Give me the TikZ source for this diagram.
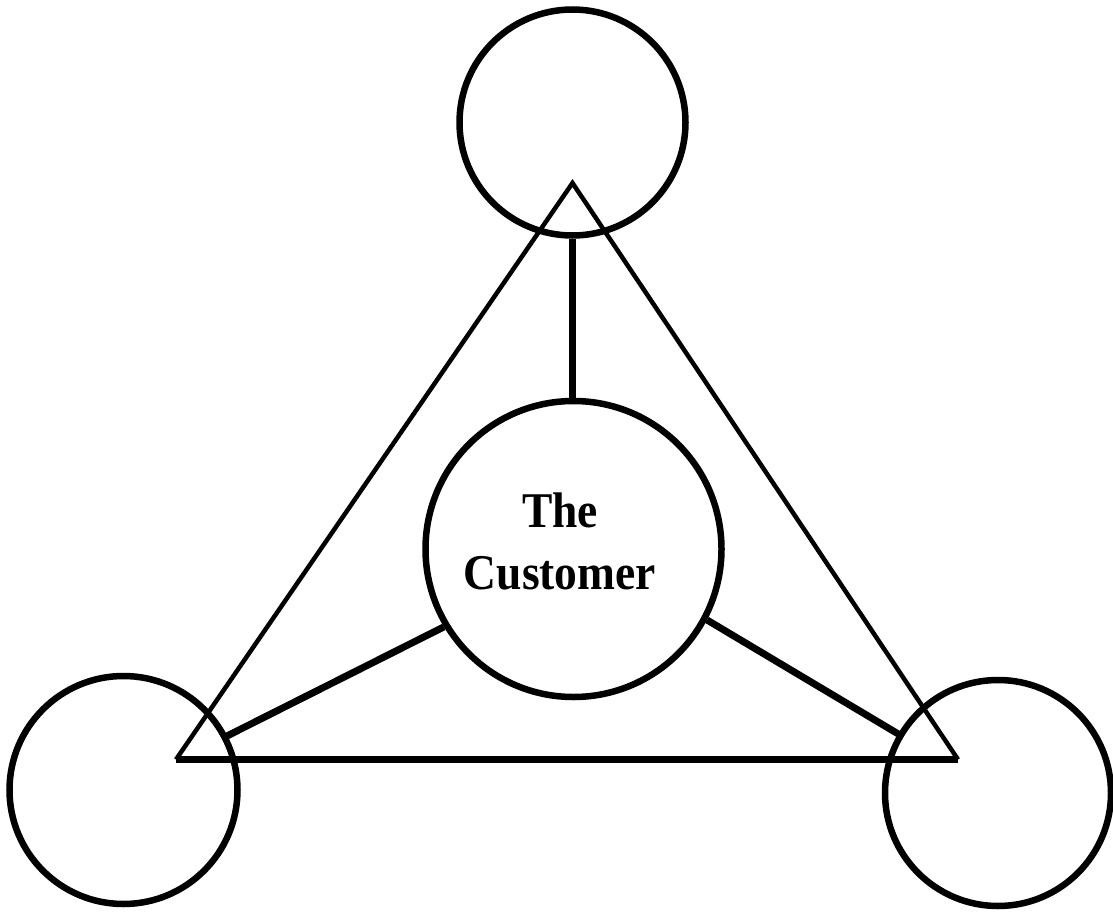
\documentclass[tikz,border=0pt]{standalone}
\usepackage{fontspec}
\setmainfont{Liberation Serif}
\newfontfamily\condserif[FakeStretch=0.91]{Liberation Serif}
\begin{document}
\begin{tikzpicture}[x=1pt,y=-1pt,
  ring/.style={draw=black,circle,inner sep=0pt,line width=6.5pt},
  side/.style={line width=4.5pt,line join=miter},
  base/.style={line width=7pt},
  link/.style={line width=7pt}]
\useasboundingbox (0,0) rectangle (1113,912);
\node[ring,minimum size=226pt] (top) at (572.5,122.5) {};
\node[ring,minimum size=228pt] (left) at (123.5,790) {};
\node[ring,minimum size=226pt] (right) at (998,793) {};
\node[ring,minimum size=296pt] (cust) at (573.5,549) {};
\node[font=\condserif\fontsize{50}{62}\selectfont\bfseries,align=center,inner sep=0pt,anchor=base] (lbl) at (560,589) {The\\Customer};
\coordinate (A) at (572.5,183);
\coordinate (B) at (176,759.5);
\coordinate (C) at (958,759.5);
\coordinate (Lend) at (223,738);
\coordinate (Rend) at (900,735);
\draw[side] (B) -- (A) -- (C);
\draw[base] (B) -- (C);
\draw[link] (top.south) -- (top.south |- cust.north);
\draw[link] (cust.211) -- (Lend);
\draw[link] (cust.332) -- (Rend);
\end{tikzpicture}
\end{document}
